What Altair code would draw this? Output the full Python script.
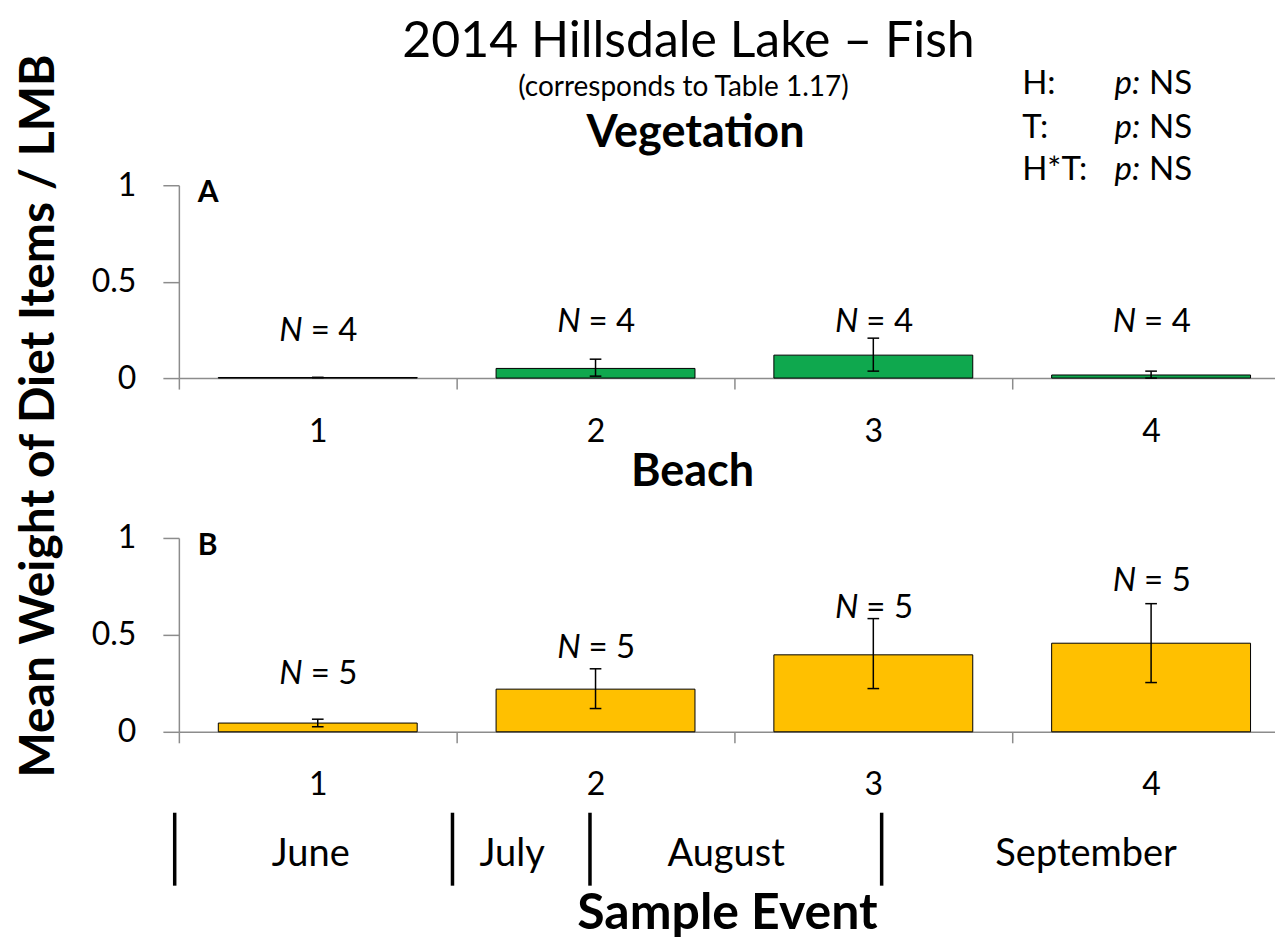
import altair as alt
import pandas as pd

FONT = "Lato"
GRAY = "#8c8c8c"

# ---------------- data ----------------
events = [1, 2, 3, 4]

veg_mean = [0.003, 0.050, 0.119, 0.016]
veg_lo = [0.003, 0.010, 0.036, 0.000]
veg_hi = [0.003, 0.098, 0.207, 0.036]
veg_n = ["4", "4", "4", "4"]
veg_label_y = [0.19, 0.24, 0.24, 0.24]

beach_mean = [0.045, 0.220, 0.397, 0.457]
beach_lo = [0.026, 0.120, 0.223, 0.254]
beach_hi = [0.065, 0.325, 0.584, 0.661]
beach_n = ["5", "5", "5", "5"]
beach_label_y = [0.247, 0.38, 0.588, 0.727]

month_names = ["June", "July", "August", "September"]
month_centers = [0.975, 1.70, 2.47, 3.766]
month_bounds = [0.485, 1.485, 1.98, 3.03]

y_ticks = [0, 0.5, 1]
x_label_values = [1, 2, 3, 4]
x_tick_values = [0.5, 1.5, 2.5, 3.5]

stat_terms = ["H:", "T:", "H*T:"]
stat_values = ["NS", "NS", "NS"]

# ---------------- layout ----------------
W = 1097
H1 = 193
H2 = 194
BAND = 278
XDOM = [0.5, 0.5 + W / BAND]
HALF_BAR = 0.358
HALF_CAP = 0.021


def txt(s, x, y, size, weight="normal", style="normal", align="center", angle=0, color="black"):
    kw = dict(fontSize=size, fontWeight=weight, fontStyle=style, align=align,
              baseline="alphabetic", color=color, font=FONT)
    if angle:
        kw["angle"] = angle
    return alt.Chart(pd.DataFrame({"t": [s]})).mark_text(**kw).encode(
        text="t:N", x=alt.value(x), y=alt.value(y))


def panel(mean, lo, hi, n, label_y, color, letter, height, extra):
    df = pd.DataFrame({"event": events, "mean": mean, "lo": lo, "hi": hi,
                       "n": n, "ly": label_y})
    xs = alt.Scale(domain=XDOM, nice=False, zero=False)
    ys = alt.Scale(domain=[0, 1], nice=False)
    tick_axis = alt.Axis(values=x_tick_values, labels=False, ticks=True, tickSize=11,
                         tickColor=GRAY, tickWidth=1.5, domain=True, domainColor=GRAY,
                         domainWidth=1.5, grid=False, title=None, orient="bottom")
    label_axis = alt.Axis(values=x_label_values, labels=True, ticks=False, tickSize=0,
                          domain=False, grid=False, title=None, orient="bottom",
                          labelFontSize=32, labelPadding=63, labelBaseline="alphabetic",
                          labelColor="black", labelFont=FONT, format="d")
    yaxis = alt.Axis(values=y_ticks, title=None, grid=False, domainColor=GRAY,
                     domainWidth=1.5, tickColor=GRAY, tickWidth=1.5, tickSize=16,
                     labelFontSize=32, labelColor="black", labelPadding=27,
                     labelFont=FONT, format="~g", orient="left")
    base = alt.Chart(df).transform_calculate(
        x1=f"datum.event - {HALF_BAR}", x2=f"datum.event + {HALF_BAR}",
        c1=f"datum.event - {HALF_CAP}", c2=f"datum.event + {HALF_CAP}",
        z="0", eq="'= ' + datum.n")

    bars = base.mark_bar(color=color, stroke="black", strokeWidth=1).encode(
        x=alt.X("x1:Q", scale=xs, axis=tick_axis),
        x2="x2:Q",
        y=alt.Y("mean:Q", scale=ys, axis=yaxis),
        y2="z:Q")
    err = base.mark_rule(color="black", strokeWidth=1.5).encode(
        x=alt.X("event:Q", scale=xs, axis=label_axis),
        y=alt.Y("lo:Q", scale=ys, axis=None),
        y2="hi:Q")
    cap_lo = base.mark_rule(color="black", strokeWidth=1.5).encode(
        x=alt.X("c1:Q", scale=xs, axis=None), x2="c2:Q",
        y=alt.Y("lo:Q", scale=ys, axis=None))
    cap_hi = base.mark_rule(color="black", strokeWidth=1.5).encode(
        x=alt.X("c1:Q", scale=xs, axis=None), x2="c2:Q",
        y=alt.Y("hi:Q", scale=ys, axis=None))
    n_italic = base.mark_text(text="N", fontStyle="italic", align="right", dx=-15,
                              baseline="alphabetic", fontSize=33, font=FONT,
                              color="black").encode(
        x=alt.X("event:Q", scale=xs, axis=None),
        y=alt.Y("ly:Q", scale=ys, axis=None))
    n_rest = base.mark_text(align="left", dx=-7, baseline="alphabetic", fontSize=33,
                            font=FONT, color="black").encode(
        x=alt.X("event:Q", scale=xs, axis=None),
        y=alt.Y("ly:Q", scale=ys, axis=None),
        text="eq:N")
    lab = txt(letter, 19, 17, 30, weight="bold", align="left")
    layers = [bars, err, cap_lo, cap_hi, n_italic, n_rest, lab] + extra(xs)
    return alt.layer(*layers).properties(width=W, height=height).resolve_axis(
        x="independent", y="independent")


def top_extra(xs):
    items = [
        # anchor for page origin (white, invisible)
        alt.Chart(pd.DataFrame({"a": [0]})).mark_rule(color="white", strokeWidth=1).encode(
            x=alt.value(-170), y=alt.value(-176), y2=alt.value(-175)),
        txt("2014 Hillsdale Lake \u2013 Fish", 510, -128, 50),
        txt("(corresponds to Table 1.17)", 505, -89, 28),
        txt("Vegetation", 517, -38, 45, weight="bold"),
        txt("Beach", 514, 301, 45, weight="bold"),
        txt("Mean Weight of Diet Items / LMB", -125, 231, 48, weight="bold", angle=270),
    ]
    ys_ = [-91, -47, -5]
    for term, val, yy in zip(stat_terms, stat_values, ys_):
        items.append(txt(term, 844, yy, 33, align="left"))
        items.append(txt("p:", 962, yy, 33, style="italic", align="right"))
        items.append(txt(val, 1014, yy, 33, align="right"))
    return items


def bottom_extra(xs):
    mdf = pd.DataFrame({"b": month_bounds})
    cdf = pd.DataFrame({"m": month_names, "c": month_centers})
    rules = alt.Chart(mdf).mark_rule(color="black", strokeWidth=3.5).encode(
        x=alt.X("b:Q", scale=xs, axis=None), y=alt.value(275), y2=alt.value(348))
    labels = alt.Chart(cdf).mark_text(fontSize=38, font=FONT, color="black",
                                      baseline="alphabetic").encode(
        x=alt.X("c:Q", scale=xs, axis=None), y=alt.value(328), text="m:N")
    return [rules, labels, txt("Sample Event", 549, 391, 50, weight="bold")]


top = panel(veg_mean, veg_lo, veg_hi, veg_n, veg_label_y, "#0fa84e", "A", H1, top_extra)
bottom = panel(beach_mean, beach_lo, beach_hi, beach_n, beach_label_y, "#ffc000", "B", H2,
               bottom_extra)

chart = alt.vconcat(top, bottom, spacing=160, bounds="flush").properties(
    padding=0
).configure(font=FONT).configure_view(strokeWidth=0, stroke=None)

chart.save("out.html", embed_options={"renderer": "svg", "actions": False})
